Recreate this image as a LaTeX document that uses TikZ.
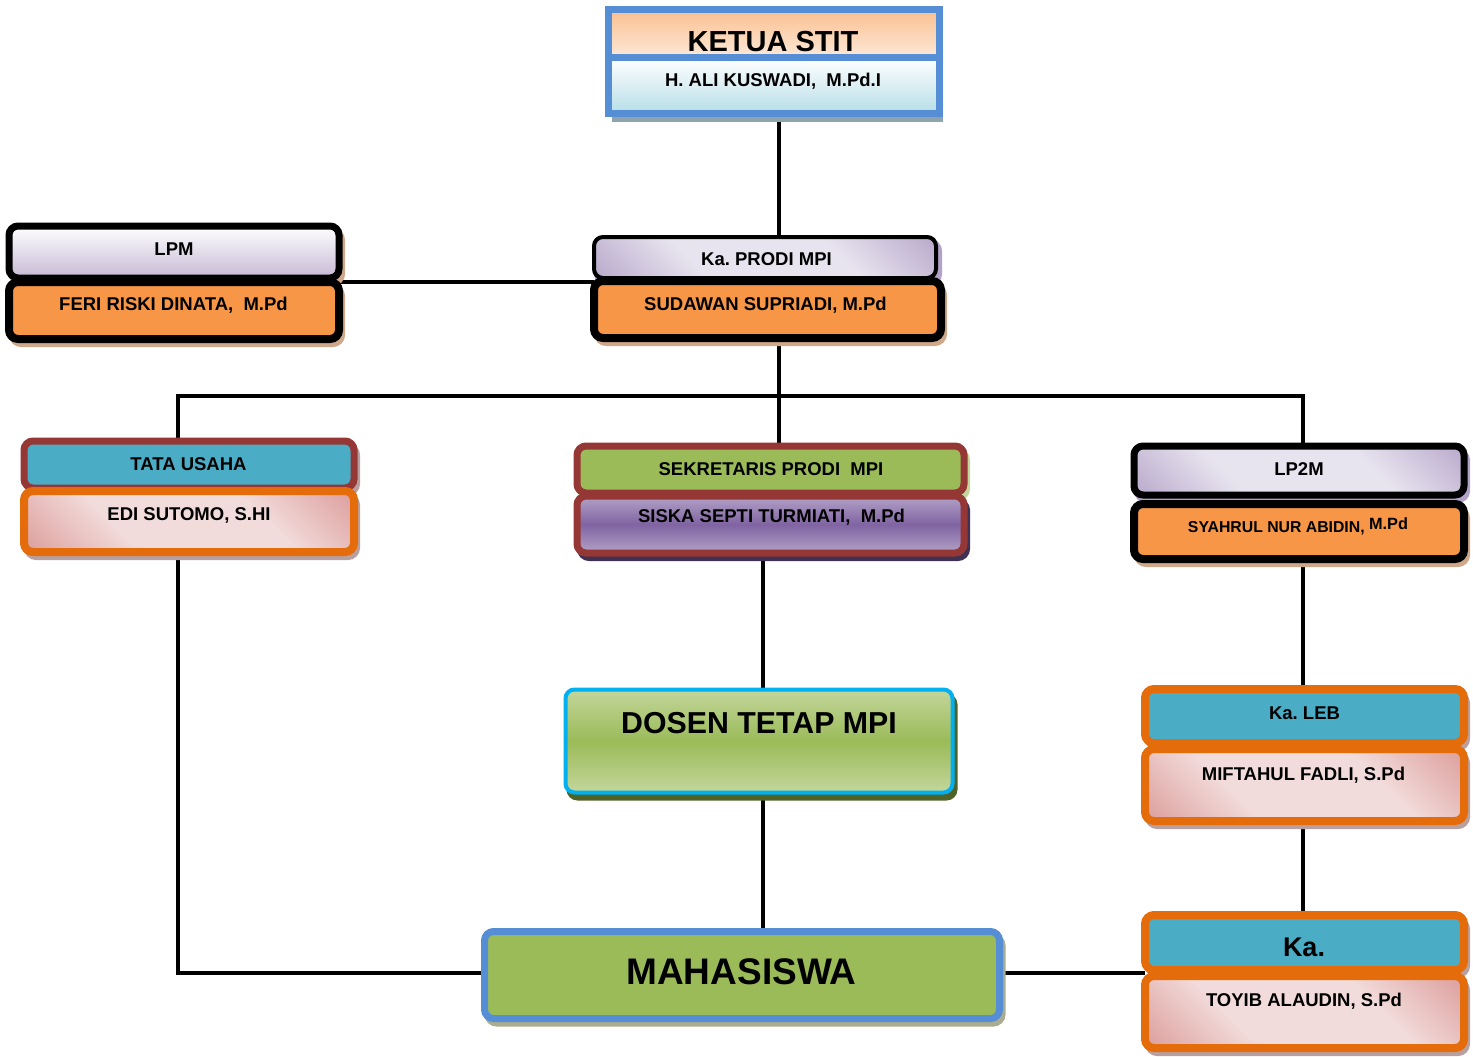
\documentclass[tikz,border=0pt]{standalone}
\usepackage{fontspec}
\setmainfont{Liberation Sans}
\usetikzlibrary{calc,shadows,backgrounds}
\definecolor{cBlue}{HTML}{558ED5}
\definecolor{cPeach}{HTML}{FAC090}
\definecolor{cPeachL}{HTML}{FDE9D9}
\definecolor{cCyanL}{HTML}{B7DEE8}
\definecolor{cLav}{HTML}{B3A2C7}
\definecolor{cLavL}{HTML}{E8E4EF}
\definecolor{cOrange}{HTML}{F79646}
\definecolor{cTan}{HTML}{CFA88A}
\definecolor{cTeal}{HTML}{4BACC6}
\definecolor{cBrown}{HTML}{953735}
\definecolor{cOrB}{HTML}{E46C0A}
\definecolor{cPinkL}{HTML}{F2DCDB}
\definecolor{cPinkD}{HTML}{D99694}
\definecolor{cGreen}{HTML}{9BBB59}
\definecolor{cGreenL}{HTML}{C3D69B}
\definecolor{cPurp}{HTML}{8064A2}
\definecolor{cPurpL}{HTML}{B3A2C7}
\definecolor{cCyan}{HTML}{00B0F0}
\definecolor{cOlive}{HTML}{4F6228}
\definecolor{cShGray}{HTML}{8FA3AD}
\definecolor{cShMauve}{HTML}{B9A0A0}
\definecolor{cShPurp}{HTML}{3F3151}
\definecolor{cShOlive}{HTML}{A9AC8E}
\pgfdeclareverticalshading{pinkdiag}{100bp}{color(0bp)=(cPinkD); color(12bp)=(cPinkD); color(36bp)=(cPinkL); color(64bp)=(cPinkL); color(88bp)=(cPinkD); color(100bp)=(cPinkD)}
\pgfdeclareverticalshading{lavdiag}{100bp}{color(0bp)=(cLav); color(12bp)=(cLav); color(36bp)=(cLavL); color(64bp)=(cLavL); color(88bp)=(cLav); color(100bp)=(cLav)}
\frenchspacing
\begin{document}
\begin{tikzpicture}[x=1pt,y=-1pt,
  conn/.style={line width=4pt,black},
  lbl/.style={font=\fontsize{18.5}{20}\selectfont\bfseries,inner sep=0pt,anchor=base},
  bx/.style={rectangle,rounded corners=9pt,inner sep=0pt,outer sep=0pt},
  shd/.style={drop shadow={shadow xshift=3pt,shadow yshift=-5pt,fill=#1,draw=#1,line width=6pt,opacity=1}},
  lavfill/.style={shading=lavdiag,shading angle=-45},
  lavfill2/.style={top color=white,bottom color=cLav!75},
  pinkfill/.style={shading=pinkdiag,shading angle=-45},
  blackbox/.style={bx,draw=black},
  orbox/.style={bx,draw=cOrB,line width=8pt},
]
\useasboundingbox (0,0) rectangle (1473,1057);

% ---------- boxes ----------
\node[rectangle,inner sep=0pt,draw=cBlue,line width=7pt,top color=cPeach,bottom color=cPeachL,
  drop shadow={shadow xshift=4pt,shadow yshift=-9pt,fill=cShGray,opacity=1},
  minimum width=331pt,minimum height=48pt] (ketT) at (773.5,34) {};
\node[rectangle,inner sep=0pt,draw=cBlue,line width=7pt,top color=white,bottom color=cCyanL,
  drop shadow={shadow xshift=4pt,shadow yshift=-9pt,fill=cShGray,opacity=1},
  minimum width=331pt,minimum height=55pt] (ketB) at (773.5,85.5) {};

\node[blackbox,line width=7pt,lavfill2,shd=cTan,minimum width=330pt,minimum height=52pt] (lpmT) at (174,252) {};
\node[blackbox,line width=8pt,fill=cOrange,shd=cTan,minimum width=330pt,minimum height=57pt] (lpmB) at (174,310.5) {};

\node[blackbox,line width=4pt,lavfill,shd=cLav,minimum width=342pt,minimum height=41pt] (prodiT) at (765,257.5) {};
\node[blackbox,line width=8pt,fill=cOrange,shd=cTan,minimum width=347pt,minimum height=57pt] (prodiB) at (767.5,309.5) {};

\node[bx,draw=cBrown,line width=7pt,fill=cTeal,shd=cShMauve,minimum width=330pt,minimum height=47pt] (tataT) at (189,464.5) {};
\node[orbox,pinkfill,shd=cShMauve,minimum width=330pt,minimum height=61pt] (tataB) at (189,521.5) {};

\node[bx,draw=cBrown,line width=7pt,fill=cGreen,shd=cGreenL,minimum width=387pt,minimum height=47pt] (sekT) at (770.5,469.5) {};
\node[bx,draw=cBrown,line width=7pt,top color=cPurpL,bottom color=cPurpL,middle color=cPurp,shd=cShPurp,minimum width=387pt,minimum height=57pt] (sekB) at (770.5,524.5) {};

\node[blackbox,line width=7pt,lavfill,shd=cLav,minimum width=330pt,minimum height=49pt] (lp2mT) at (1299,470.5) {};
\node[blackbox,line width=8pt,fill=cOrange,shd=cTan,minimum width=330pt,minimum height=55pt] (lp2mB) at (1299,531.5) {};

\node[bx,draw=cCyan,line width=4pt,top color=cGreenL,bottom color=cGreenL,middle color=cGreen,
  drop shadow={shadow xshift=3pt,shadow yshift=-6pt,fill=cOlive,draw=cOlive,line width=4pt,opacity=1},
  minimum width=387pt,minimum height=103pt] (dosen) at (759,741) {};

\node[orbox,fill=cTeal,shd=cShMauve,minimum width=319pt,minimum height=54pt] (lebT) at (1304.5,716) {};
\node[orbox,pinkfill,shd=cShMauve,minimum width=319pt,minimum height=72pt] (lebB) at (1304.5,785) {};

\node[orbox,fill=cTeal,shd=cShMauve,minimum width=319pt,minimum height=55pt] (kaT) at (1304.5,942.5) {};
\node[orbox,pinkfill,shd=cShMauve,minimum width=319pt,minimum height=72pt] (kaB) at (1304.5,1012) {};

\node[bx,draw=cBlue,line width=7pt,fill=cGreen,shd=cShOlive,minimum width=515pt,minimum height=87pt] (maha) at (742,975) {};

% ---------- texts ----------
\node[lbl,font=\fontsize{29}{31}\selectfont\bfseries] (tKetua) at (773,51.7) {KETUA STIT};
\node[lbl] (tAli) at (773,87) {H. ALI KUSWADI,~ M.Pd.I};
\node[lbl] (tLpm) at (174,255) {LPM};
\node[lbl] (tFeri) at (173.5,310) {FERI RISKI DINATA,~ M.Pd};
\node[lbl] (tProdi) at (766.5,265) {Ka. PRODI MPI};
\node[lbl] (tSudawan) at (765.5,310) {SUDAWAN SUPRIADI, M.Pd};
\node[lbl] (tTata) at (188.5,470.5) {TATA USAHA};
\node[lbl] (tEdi) at (189,520.5) {EDI SUTOMO, S.HI};
\node[lbl] (tSek) at (771,475) {SEKRETARIS PRODI~ MPI};
\node[lbl] (tSiska) at (771.5,522.5) {SISKA SEPTI TURMIATI,~ M.Pd};
\node[lbl] (tLp2m) at (1299,475) {LP2M};
\node[lbl] (tSyahrul) at (1298,532) {{\fontsize{15.8}{18}\selectfont SYAHRUL NUR ABIDIN, }\raisebox{3pt}{\fontsize{16.3}{18}\selectfont M.Pd}};
\node[lbl,font=\fontsize{30.3}{32}\selectfont\bfseries] (tDosen) at (759,733) {DOSEN TETAP MPI};
\node[lbl] (tLeb) at (1304.5,719) {Ka. LEB};
\node[lbl] (tMiftahul) at (1303.5,780) {MIFTAHUL FADLI, S.Pd};
\node[lbl,font=\fontsize{27}{29}\selectfont\bfseries] (tKa) at (1304,956.5) {Ka.};
\node[lbl] (tToyib) at (1304,1006.5) {TOYIB ALAUDIN, S.Pd};
\node[lbl,font=\fontsize{37}{39}\selectfont\bfseries] (tMaha) at (741.5,984) {MAHASISWA};

% ---------- connectors ----------
\coordinate (xA) at (779,396);
\coordinate (busL) at (178,396);
\coordinate (busR) at (1303,396);
\coordinate (xS) at (763,0);
\coordinate (xR) at (1303,0);
\coordinate (yM) at (0,973);
\coordinate (cornerL) at (178,973);
\begin{scope}[on background layer]
\draw[conn] (ketB.south -| xA) -- (prodiT.north -| xA);
\draw[conn] (lpmB.north east) -- (lpmB.north east -| prodiB.west);
\draw[conn] (prodiB.south -| xA) -- (xA);
\draw[conn] (tataT.north -| busL) -- (busL) -- (busR) -- (lp2mT.north -| busR);
\draw[conn] (xA) -- (sekT.north -| xA);
\draw[conn] (sekB.south -| xS) -- (dosen.north -| xS);
\draw[conn] (dosen.south -| xS) -- (maha.north -| xS);
\draw[conn] (lp2mB.south -| xR) -- (lebT.north -| xR);
\draw[conn] (lebB.south -| xR) -- (kaT.north -| xR);
\draw[conn] (maha.east |- yM) -- (kaB.west |- yM);
\draw[conn] (tataB.south -| busL) -- (cornerL) -- (maha.west |- cornerL);
\end{scope}
\end{tikzpicture}
\end{document}
